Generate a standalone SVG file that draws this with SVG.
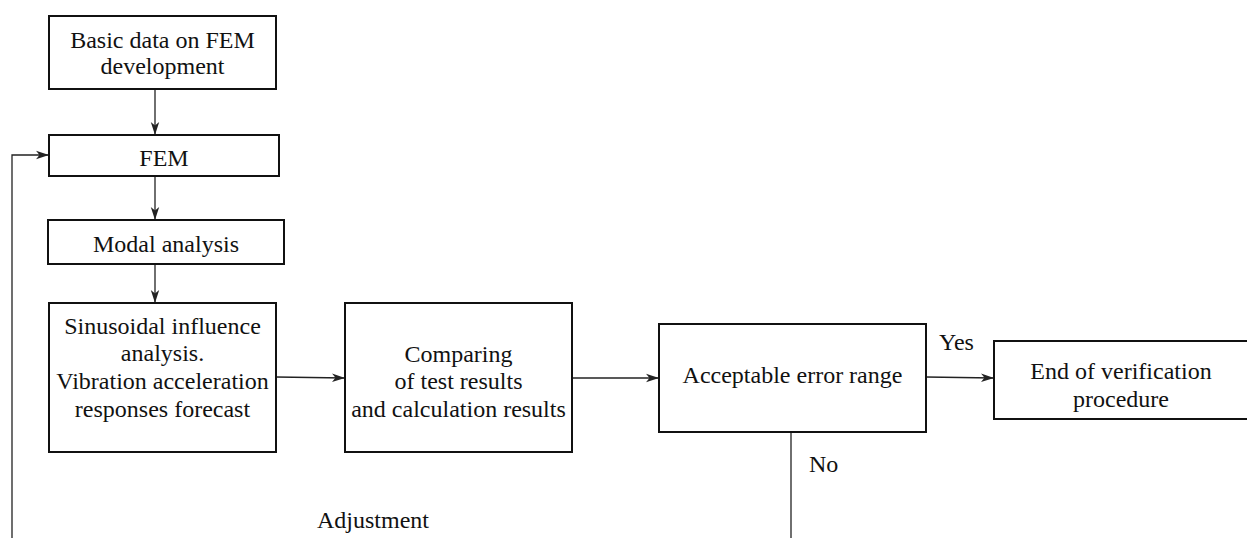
<svg xmlns="http://www.w3.org/2000/svg" width="1247" height="538" viewBox="0 0 1247 538">
<style>
.box{fill:#fff;stroke:#111;stroke-width:2}
.t{font-family:"Liberation Serif","Times New Roman",serif;font-size:24px;fill:#111;text-anchor:middle}
.l{font-family:"Liberation Serif","Times New Roman",serif;font-size:24px;fill:#111}
.c{fill:none;stroke:#222;stroke-width:1.3}
</style>
<defs>
<marker id="ah" markerWidth="14" markerHeight="10" refX="13" refY="5" orient="auto" markerUnits="userSpaceOnUse">
<path d="M0,0.8 L13,5 L0,9.2 L3.5,5 z" fill="#222"/>
</marker>
</defs>
<rect width="1247" height="538" fill="#fff"/>
<g id="connectors">
<line class="c" x1="155" y1="89" x2="155" y2="135" marker-end="url(#ah)"/>
<line class="c" x1="155" y1="176" x2="155" y2="220" marker-end="url(#ah)"/>
<line class="c" x1="155" y1="264" x2="155" y2="303" marker-end="url(#ah)"/>
<line class="c" x1="276" y1="377" x2="345" y2="378" marker-end="url(#ah)"/>
<line class="c" x1="572" y1="378" x2="659" y2="378" marker-end="url(#ah)"/>
<line class="c" x1="926" y1="377" x2="994" y2="378" marker-end="url(#ah)"/>
<line class="c" x1="791" y1="432" x2="791" y2="538"/>
<polyline class="c" points="12,538 12,155 49,155" marker-end="url(#ah)"/>
<text class="l" x="939" y="350">Yes</text>
<text class="l" x="809" y="472">No</text>
<text class="l" x="317" y="528">Adjustment</text>
</g>
<g id="n1">
<rect class="box" x="49" y="16" width="227" height="73"/>
<text class="t" x="162.5" y="48">Basic data on FEM</text>
<text class="t" x="162.5" y="74">development</text>
</g>
<g id="n2">
<rect class="box" x="49" y="135" width="230" height="41"/>
<text class="t" x="164" y="166">FEM</text>
</g>
<g id="n3">
<rect class="box" x="48" y="220" width="236" height="44"/>
<text class="t" x="166" y="252">Modal analysis</text>
</g>
<g id="n4">
<rect class="box" x="49" y="303" width="227" height="149"/>
<text class="t" x="162.5" y="334">Sinusoidal influence</text>
<text class="t" x="162.5" y="361">analysis.</text>
<text class="t" x="162.5" y="389">Vibration acceleration</text>
<text class="t" x="162.5" y="417">responses forecast</text>
</g>
<g id="n5">
<rect class="box" x="345" y="303" width="227" height="149"/>
<text class="t" x="458.5" y="362">Comparing</text>
<text class="t" x="458.5" y="389">of test results</text>
<text class="t" x="458.5" y="417">and calculation results</text>
</g>
<g id="n6">
<rect class="box" x="659" y="324" width="267" height="108"/>
<text class="t" x="792.5" y="383">Acceptable error range</text>
</g>
<g id="n7">
<rect class="box" x="994" y="341" width="260" height="78"/>
<text class="t" x="1121" y="379">End of verification</text>
<text class="t" x="1121" y="407">procedure</text>
</g>
</svg>
